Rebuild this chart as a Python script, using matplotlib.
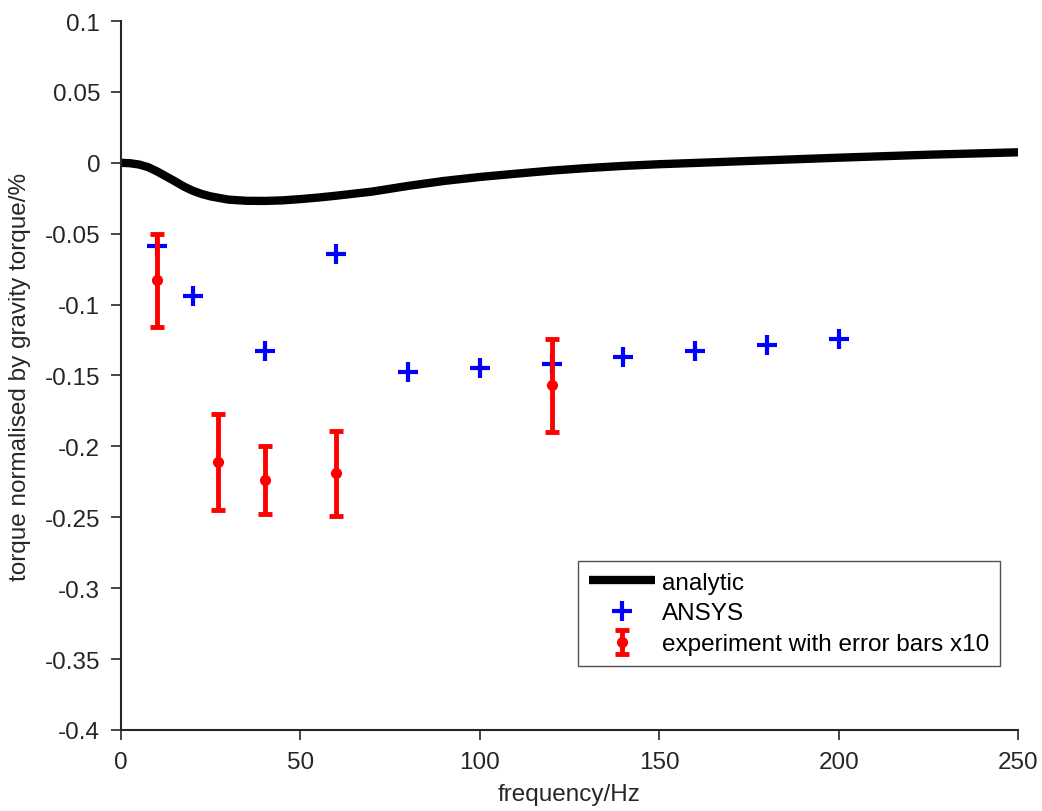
import numpy as np
import matplotlib
matplotlib.use('Agg')
import matplotlib.pyplot as plt

plt.rcParams['font.family'] = ['Liberation Sans', 'DejaVu Sans']

# analytic curve
freq_analytic = [0, 2.5, 5, 7.5, 10, 12.5, 15, 17.5, 20, 22.5, 25, 30, 35, 40, 45, 50,
                 55, 60, 70, 80, 90, 100, 110, 120, 130, 140, 150, 160, 175, 200, 225, 250]
torque_analytic = [0, -0.0003, -0.0012, -0.003, -0.006, -0.0095, -0.013, -0.0167, -0.0197,
                   -0.022, -0.0237, -0.026, -0.0268, -0.0269, -0.0265, -0.0256, -0.0245,
                   -0.0232, -0.0203, -0.0163, -0.0128, -0.0100, -0.0077, -0.0055, -0.0037,
                   -0.0022, -0.0010, -0.0001, 0.0013, 0.0036, 0.0057, 0.0074]

# ANSYS
freq_ansys = [10, 20, 40, 60, 80, 100, 120, 140, 160, 180, 200]
torque_ansys = [-0.059, -0.094, -0.133, -0.064, -0.1475, -0.145, -0.142, -0.137, -0.133, -0.1285, -0.124]

# experiment (error bars x10)
freq_exp = [10, 27, 40, 60, 120]
torque_exp = [-0.083, -0.211, -0.224, -0.219, -0.157]
err_exp = [0.033, 0.034, 0.024, 0.030, 0.033]

fig = plt.figure(figsize=(10.42, 8.12), dpi=100)
ax = fig.add_axes([0.1161, 0.0998, 0.8610, 0.8731])

ax.plot(freq_analytic, torque_analytic, color='k', lw=6, label='analytic', solid_capstyle='butt')
ax.plot(freq_ansys, torque_ansys, ls='none', marker='+', ms=14, mew=3, color='#0000ff', label='ANSYS')
ax.errorbar(freq_exp, torque_exp, yerr=err_exp, fmt='o', color='#ff0000', ms=7,
            elinewidth=3.5, capsize=5, capthick=3.5, label='experiment with error bars x10')

ax.set_xlim(0, 250)
ax.set_ylim(-0.4, 0.1)
ax.set_xticks([0, 50, 100, 150, 200, 250])
ax.set_yticks(np.arange(-0.4, 0.101, 0.05))
ax.set_yticklabels(['-0.4', '-0.35', '-0.3', '-0.25', '-0.2', '-0.15', '-0.1', '-0.05', '0', '0.05', '0.1'])

for s in ['top', 'right']:
    ax.spines[s].set_visible(False)
for s in ['left', 'bottom']:
    ax.spines[s].set_color('#262626')
    ax.spines[s].set_linewidth(1.5)
ax.tick_params(direction='out', length=7, width=1.2, colors='#262626', labelsize=17.5, pad=8)

ax.set_xlabel('frequency/Hz', fontsize=17.5, color='#262626', labelpad=7)
ax.set_ylabel('torque normalised by gravity torque/%', fontsize=17.5, color='#262626', labelpad=10)

leg = ax.legend(loc='lower right', bbox_to_anchor=(0.98, 0.09), fontsize=17.5, frameon=True,
                fancybox=False, edgecolor='#262626', borderaxespad=0, handlelength=2.7,
                labelspacing=0.36, handletextpad=0.3, borderpad=0.45)
leg.get_frame().set_linewidth(1.0)

fig.savefig('out.png', dpi=100)
